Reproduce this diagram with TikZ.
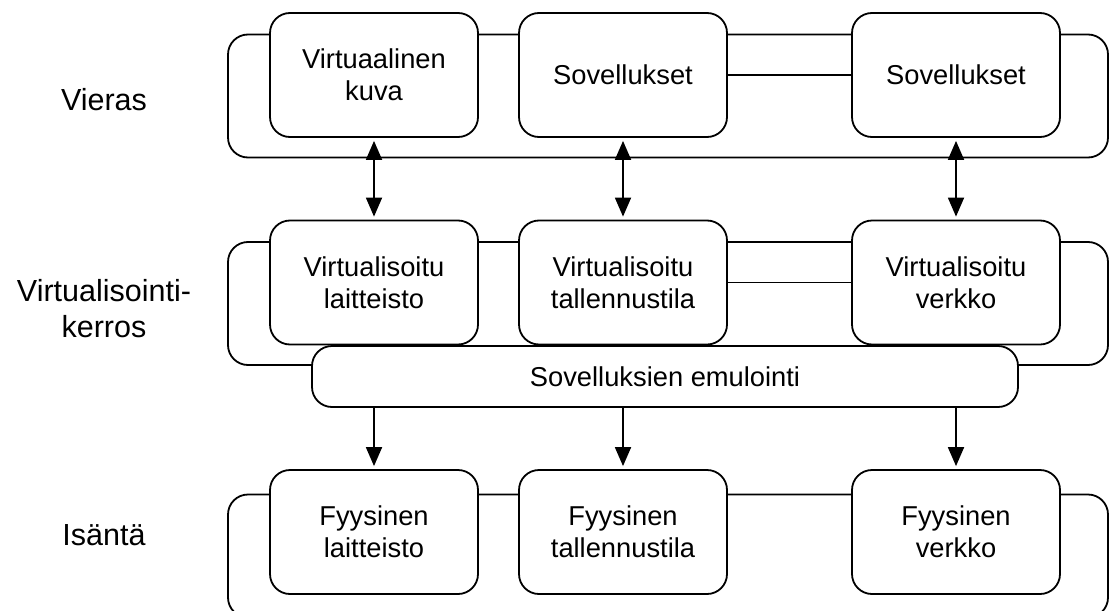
\documentclass[tikz,border=0pt]{standalone}
\usepackage{fontspec}
\setmainfont{Liberation Sans}
\usetikzlibrary{arrows.meta,positioning}

\begin{document}
\begin{tikzpicture}[x=1pt, y=-1pt,
layer/.style={rectangle, draw, rounded corners=20pt, line width=1.8pt, minimum width=880pt, minimum height=123pt},
unit/.style={rectangle, draw, fill=white, rounded corners=20pt, line width=1.8pt, align=center, inner sep=0pt, minimum width=208pt, minimum height=124pt, font=\fontsize{27.3}{32}\selectfont},
emul/.style={unit, minimum width=706pt, minimum height=61pt},
tag/.style={align=center, font=\fontsize{30.5}{36}\selectfont},
link/.style={line width=1.8pt},
arrow/.style={-{Triangle[width=16pt,length=19pt]}, line width=1.8pt},
biarrow/.style={{Triangle[width=16pt,length=19pt]}-{Triangle[width=16pt,length=19pt]}, line width=1.8pt}
]
\useasboundingbox (0,0) rectangle (1110,610);

% Layers
\node[layer] (guest) at (668,96) {};
\node[layer] (virt) at (668,303.5) {};
\node[layer] (host) at (668,556) {};

% Layer names
\node[tag] (lguest) at (104,100) {Vieras};
\node[tag] (lvirt) at (104,309) {Virtualisointi-\\kerros};
\node[tag] (lhost) at (104,535) {Isäntä};

% Guest
\node[unit] (vimage) at (374,75) {Virtuaalinen\\kuva};
\node[unit] (apps1) at (623,75) {Sovellukset};
\node[unit] (apps2) at (956,75) {Sovellukset};

% Virtualisation layer
\node[unit] (vhw) at (374,282.5) {Virtualisoitu\\laitteisto};
\node[unit] (vstore) at (623,282.5) {Virtualisoitu\\tallennustila};
\node[unit] (vnet) at (956,282.5) {Virtualisoitu\\verkko};
\node[emul] (emul) at (665,376.5) {Sovelluksien emulointi};

% Host
\node[unit] (phw) at (374,532) {Fyysinen\\laitteisto};
\node[unit] (pstore) at (623,532) {Fyysinen\\tallennustila};
\node[unit] (pnet) at (956,532) {Fyysinen\\verkko};

% Connections
\draw[link] (apps1.east) -- (apps2.west);
\draw[link] (vstore.east) -- (vnet.west);

\draw[biarrow] ([yshift=-3pt]vimage.south) -- ([yshift=3pt]vhw.north);
\draw[biarrow] ([yshift=-3pt]apps1.south) -- ([yshift=3pt]vstore.north);
\draw[biarrow] ([yshift=-3pt]apps2.south) -- ([yshift=3pt]vnet.north);

\draw[arrow] (emul.south -| phw.north) -- ([yshift=3pt]phw.north);
\draw[arrow] (emul.south -| pstore.north) -- ([yshift=3pt]pstore.north);
\draw[arrow] (emul.south -| pnet.north) -- ([yshift=3pt]pnet.north);

\end{tikzpicture}
\end{document}
